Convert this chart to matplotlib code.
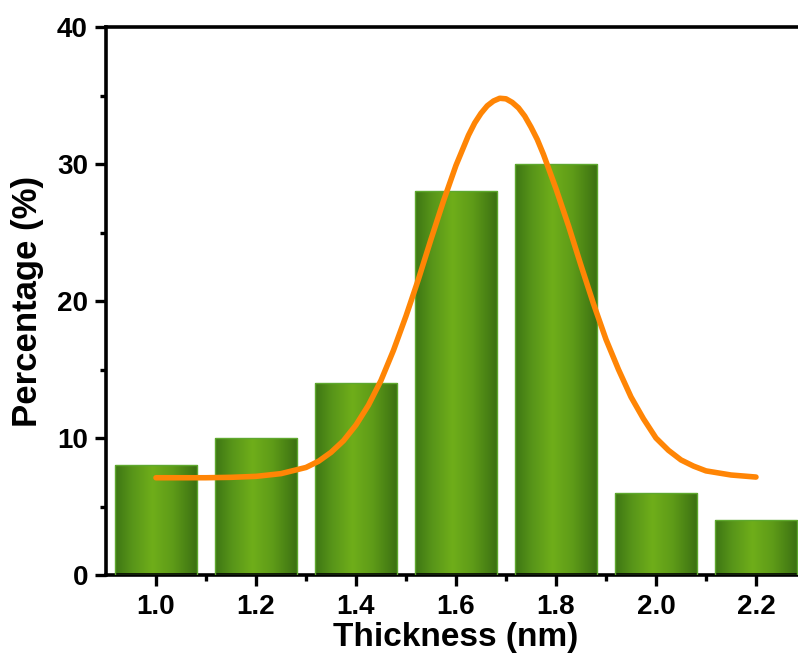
import numpy as np
import matplotlib
matplotlib.use('Agg')
import matplotlib.pyplot as plt
from matplotlib.colors import LinearSegmentedColormap

# Histogram data
thickness = [1.0, 1.2, 1.4, 1.6, 1.8, 2.0, 2.2]
percentage = [8, 10, 14, 28, 30, 6, 4]
tick_labels = ['1.0', '1.2', '1.4', '1.6', '1.8', '2.0', '2.2']

# Fit curve
fit_x = [1.00, 1.05, 1.10, 1.15, 1.20, 1.25, 1.30, 1.325, 1.35, 1.375,
         1.40, 1.425, 1.45, 1.475, 1.50, 1.525, 1.55, 1.575, 1.60, 1.625,
         1.6375, 1.65, 1.6625, 1.675, 1.6875, 1.70, 1.7125, 1.725, 1.7375,
         1.75, 1.7625, 1.775, 1.80, 1.825, 1.85, 1.875, 1.90, 1.925, 1.95,
         1.975, 2.00, 2.025, 2.05, 2.075, 2.10, 2.15, 2.20]
fit_y = [7.1, 7.1, 7.1, 7.13, 7.2, 7.4, 7.85, 8.3, 8.95, 9.8,
         10.95, 12.4, 14.2, 16.4, 18.9, 21.6, 24.5, 27.3, 29.9, 32.1,
         33.0, 33.7, 34.25, 34.6, 34.8, 34.76, 34.5, 34.1, 33.5,
         32.7, 31.8, 30.7, 28.2, 25.5, 22.6, 19.8, 17.2, 15.0, 13.0,
         11.4, 10.0, 9.1, 8.4, 7.95, 7.6, 7.3, 7.15]

plt.rcParams['font.family'] = ['Liberation Sans', 'DejaVu Sans']
plt.rcParams['font.weight'] = 'bold'

fig = plt.figure(figsize=(7.98, 6.61), dpi=100)
ax = fig.add_axes([0.1328, 0.1301, 0.8772, 0.829])

bars = ax.bar(thickness, percentage, width=0.165, facecolor='none',
              edgecolor='#5ea82e', linewidth=1.0, zorder=3)

# cylinder-like shading for every bar
cmap = LinearSegmentedColormap.from_list(
    'bar', [(0.0, '#3d7614'), (0.2, '#579419'), (0.45, '#6fae1a'),
            (0.7, '#5e9b18'), (1.0, '#3a6f12')])
grad = np.linspace(0, 1, 256).reshape(1, -1)
for b in bars:
    x0, y0 = b.get_x(), b.get_y()
    im = ax.imshow(grad, cmap=cmap, aspect='auto', zorder=2,
                   extent=[x0, x0 + b.get_width(), y0, y0 + b.get_height()])
    im.set_clip_path(b)

ax.plot(fit_x, fit_y, color='#ff8505', linewidth=4.0,
        solid_capstyle='round', solid_joinstyle='round', zorder=4)

ax.set_xlim(0.9, 2.3)
ax.set_ylim(0, 40)
ax.set_xticks(thickness)
ax.set_xticklabels(tick_labels)
ax.set_xticks(np.arange(1.1, 2.3, 0.2), minor=True)
ax.set_yticks([0, 10, 20, 30, 40])
ax.set_yticks([5, 15, 25, 35], minor=True)

for s in ['left', 'bottom', 'top']:
    ax.spines[s].set_linewidth(2.6)
ax.spines['right'].set_visible(False)

ax.tick_params(which='major', direction='out', length=8, width=2.4,
               labelsize=20, top=False, right=False)
ax.tick_params(which='minor', direction='out', length=4, width=2.4,
               top=False, right=False)
ax.tick_params(axis='x', which='major', pad=6)
ax.tick_params(axis='y', which='major', pad=5)

ax.set_xlabel('Thickness (nm)', fontsize=24, fontweight='bold', labelpad=1)
ax.set_ylabel('Percentage (%)', fontsize=25, fontweight='bold', labelpad=9)

plt.savefig('out.png', dpi=100)
